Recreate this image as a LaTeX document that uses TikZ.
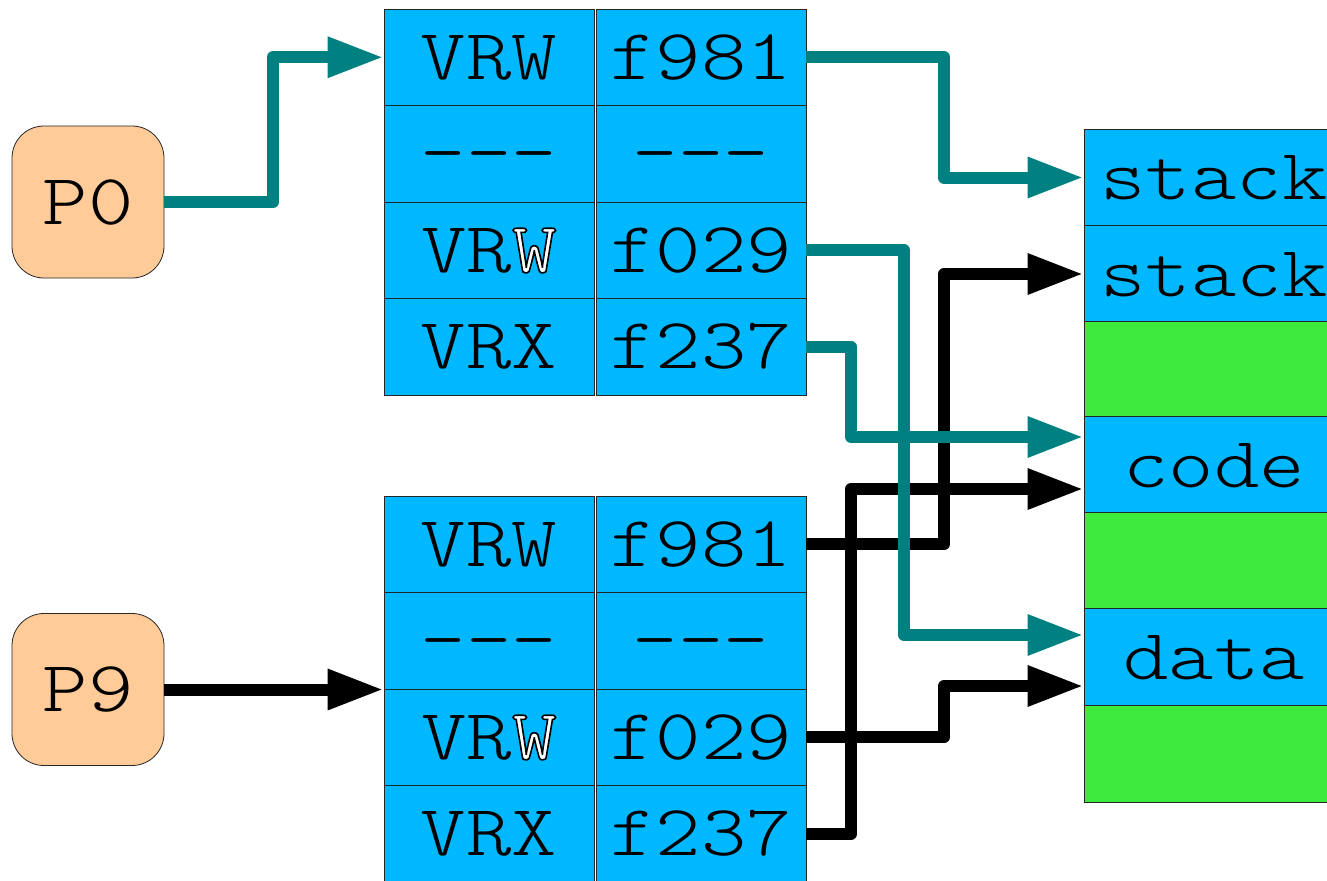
\documentclass[tikz,border=0pt]{standalone}
\usepackage{fontspec}
\newfontfamily\mono[FakeStretch=1.2]{Latin Modern Mono Light}
\newfontfamily\monoreg[FakeStretch=1.2]{Latin Modern Mono}
\usetikzlibrary{arrows.meta,calc}
\definecolor{tblue}{RGB}{0,184,255}
\definecolor{mgreen}{RGB}{61,235,61}
\definecolor{peach}{RGB}{255,204,153}
\definecolor{tealc}{RGB}{0,128,128}
\newcommand\outl[1]{{\monoreg\special{pdf:literal direct 1.2 w 2 Tr 1 g 0 G}#1\special{pdf:literal direct 0 Tr 0 g}}}
\tikzset{
 txt/.style={font=\mono\fontsize{54pt}{56pt}\selectfont, text height=33pt, text depth=0pt, inner sep=0pt},
 cell/.style={txt, draw=black!85, line width=0.6pt, fill=tblue, minimum width=157.5pt, minimum height=72.4pt},
 mcell/.style={txt, draw=black!85, line width=0.6pt, fill=#1, minimum width=195pt, minimum height=72.2pt},
 proc/.style={txt, draw=black!85, line width=0.6pt, fill=peach, rounded corners=24pt, minimum width=114pt, minimum height=114pt},
 conn/.style={line width=9pt, line join=round, -{Triangle[length=42pt,width=28.5pt]}},
 tconn/.style={conn, draw=tealc},
 bconn/.style={conn, draw=black},
}
\begin{document}
\begin{tikzpicture}[x=0.75pt,y=-0.75pt]
\useasboundingbox (0,0) rectangle (1327,881);
\clip (0,0) rectangle (1327,881);
% processes
\node[proc] (p0) at (88,202) {P0};
\node[proc] (p9) at (88,689.5) {P9};
% top page table
\node[cell] (t1a) at (489,57.25) {VRW};
\node[cell] (t1b) at (701,57.25) {f981};
\node[cell] (t2a) at (489,153.75) {---};
\node[cell] (t2b) at (701,153.75) {---};
\node[cell] (t3a) at (489,250.25) {VR\outl{W}};
\node[cell] (t3b) at (701,250.25) {f029};
\node[cell] (t4a) at (489,346.75) {VRX};
\node[cell] (t4b) at (701,346.75) {f237};
% bottom page table
\node[cell] (b1a) at (489,544.25) {VRW};
\node[cell] (b1b) at (701,544.25) {f981};
\node[cell] (b2a) at (489,640.75) {---};
\node[cell] (b2b) at (701,640.75) {---};
\node[cell] (b3a) at (489,737.25) {VR\outl{W}};
\node[cell] (b3b) at (701,737.25) {f029};
\node[cell] (b4a) at (489,833.75) {VRX};
\node[cell] (b4b) at (701,833.75) {f237};
% physical memory
\node[mcell=tblue] (m1) at (1214,177.5) {stack};
\node[mcell=tblue] (m2) at (1214,274) {stack};
\node[mcell=mgreen] (m3) at (1214,369.5) {};
\node[mcell=tblue] (m4) at (1214,465) {code};
\node[mcell=mgreen] (m5) at (1214,561) {};
\node[mcell=tblue] (m6) at (1214,657) {data};
\node[mcell=mgreen] (m7) at (1214,754) {};
% bend positions and targets
\coordinate (xa) at (273,0);
\coordinate (xb) at (944,0);
\coordinate (xc) at (904,0);
\coordinate (xd) at (851,0);
\coordinate (c1) at ($(m4.west)+(0,-28)$);
\coordinate (c2) at ($(m4.west)+(0,24)$);
\coordinate (d1) at ($(m6.west)+(0,-22)$);
\coordinate (d2) at ($(m6.west)+(0,29)$);
% black connectors (P9)
\draw[bconn] (p9.east) -- (p9.east -| b3a.north west);
\draw[bconn] (b1b.east) -| (xb |- m2.west) -- (m2.west);
\draw[bconn] (b3b.east) -| (xb |- d2) -- (d2);
\draw[bconn] (b4b.east) -| (xd |- c2) -- (c2);
% teal connectors (P0)
\draw[tconn] (p0.east) -| (xa |- t1a.west) -- (t1a.west);
\draw[tconn] (t1b.east) -| (xb |- m1.west) -- (m1.west);
\draw[tconn] (t3b.east) -| (xc |- d1) -- (d1);
\draw[tconn] (t4b.east) -| (xd |- c1) -- (c1);
\end{tikzpicture}
\end{document}
